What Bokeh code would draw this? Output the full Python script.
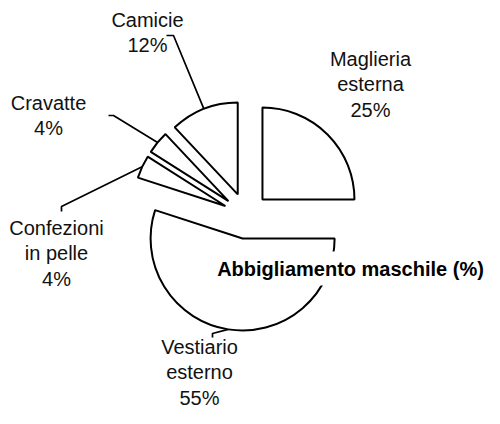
import math
from bokeh.plotting import figure
from bokeh.models import Range1d, Label, ColumnDataSource
from bokeh.core.properties import value
from bokeh.embed import file_html
from bokeh.resources import INLINE

# ---- data ----
categories = ["Maglieria\nesterna", "Vestiario\nesterno", "Confezioni\nin pelle", "Cravatte", "Camicie"]
shares = [25, 55, 4, 4, 12]
title_text = "Abbigliamento maschile (%)"

# ---- layout (picture-pixel units, y measured upward from 424) ----
W, H = 484, 408
TOP = 424
CX, CY = 245.7, TOP - 215.3
R = 92
EXPLODE = 23
label_pos = [(370, TOP - 84), (199, TOP - 372), (56, TOP - 253), (48, TOP - 115), (147, TOP - 32)]
# elbow points of leader lines (None = no leader line)
elbows = [None,
          [(212, TOP - 333), (212, TOP - 337)],
          [(61, TOP - 206), (61, TOP - 211)],
          [(113, TOP - 115), (108, TOP - 115)],
          [(173, TOP - 35), (166, TOP - 35)]]
FONT = "Liberation Sans"

p = figure(width=W, height=H, output_backend="svg", toolbar_location=None,
           x_range=Range1d(0, W), y_range=Range1d(TOP - H, TOP),
           x_axis_location=None, y_axis_location=None, min_border=0)
p.grid.visible = False
p.outline_line_color = None
p.background_fill_color = "white"

total = float(sum(shares))
theta = 0.0
wx, wy, sa, ea = [], [], [], []
lx, ly, ltxt = [], [], []
for i, v in enumerate(shares):
    t1 = theta
    t2 = theta + 360.0 * v / total
    theta = t2
    tm = math.radians((t1 + t2) / 2)
    cx = CX + EXPLODE * math.sin(tm)
    cy = CY + EXPLODE * math.cos(tm)
    wx.append(cx); wy.append(cy)
    sa.append(90 - t2); ea.append(90 - t1)
    ax = cx + R * math.sin(tm)
    ay = cy + R * math.cos(tm)
    if elbows[i] is not None:
        xs = [ax] + [e[0] for e in elbows[i]]
        ys = [ay] + [e[1] for e in elbows[i]]
        p.line(xs, ys, line_color="black", line_width=1.7)
    lx.append(label_pos[i][0]); ly.append(label_pos[i][1])
    ltxt.append(f"{categories[i]}\n{v}%")

src = ColumnDataSource(dict(x=wx, y=wy, sa=sa, ea=ea))
p.wedge(x="x", y="y", radius=R, start_angle="sa", end_angle="ea",
        start_angle_units="deg", end_angle_units="deg", direction="anticlock",
        fill_color="white", line_color="black", line_width=2, source=src)

p.text(x=lx, y=ly, text=ltxt, text_align="center", text_baseline="middle",
       text_font=value(FONT), text_font_size="20px", text_color="#111111",
       text_line_height=1.15)

p.add_layout(Label(x=350, y=TOP - 268, text=title_text, text_align="center",
                   text_baseline="middle", text_font=FONT, text_font_size="20px",
                   text_font_style="bold", text_color="black",
                   background_fill_color="white", padding=6))

open("out.html", "w").write(file_html(p, INLINE))
